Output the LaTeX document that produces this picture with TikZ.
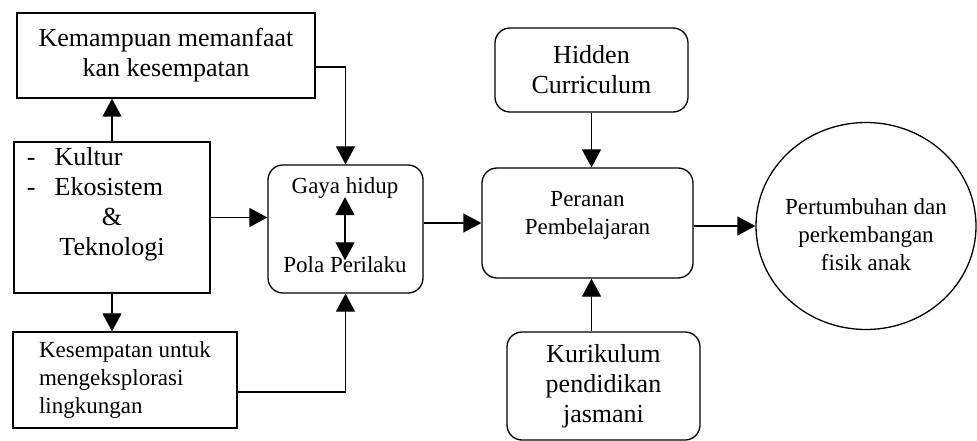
\documentclass[tikz,border=0pt]{standalone}
\usepackage{fontspec}
\setmainfont{Liberation Serif}
\usetikzlibrary{positioning}
\usetikzlibrary{calc}
\usetikzlibrary{shapes.geometric}
\usetikzlibrary{arrows.meta}

\begin{document}
\begin{tikzpicture}[->,>={Triangle[width=19pt,length=18pt]},x=1pt,y=-1pt,
		line width=1.3pt]
		\tikzstyle{box}=[draw,rectangle,align=center,inner sep=2pt]
		\tikzstyle{rbox}=[box,rounded corners=15pt]
		\tikzstyle{big}=[font=\fontsize{26}{30}\selectfont]
		\tikzstyle{small}=[font=\fontsize{23}{28}\selectfont]
		
		\useasboundingbox (0,0) rectangle (977,441);
		
		\node[box,big,minimum width=298pt,minimum height=85pt]  (Kemampuan)  at (166,55.5) {Kemampuan memanfaat\\kan kesempatan};
		\node[box,minimum width=196pt,minimum height=151pt]     (Kultur)     at (112,217.5) {};
		\node[big,align=center,inner sep=0pt]                   (KulturTxt)  at (112,204)
		{\makebox[170pt][l]{-\hspace{19pt}Kultur}\\\makebox[170pt][l]{-\hspace{19pt}Ekosistem}\\\&\\Teknologi};
		\node[box,small,align=left,minimum width=224pt,minimum height=96pt] (Kesempatan) at (125,380)
		{Kesempatan untuk\\mengeksplorasi\\lingkungan};
		
		\node[rbox,minimum width=155pt,minimum height=128pt]    (Gaya)       at (345.5,229) {};
		\node[small,inner sep=0pt]                              (GayaTop)    at (345,188) {Gaya hidup};
		\node[small,inner sep=0pt]                              (GayaBot)    at (345,265) {Pola Perilaku};
		
		\node[rbox,minimum width=211pt,minimum height=110pt]    (Peranan)    at (587.5,223) {};
		\node[small,align=center,inner sep=0pt]                 (PerananTxt) at (587.5,215) {Peranan\\Pembelajaran};
		\node[rbox,big,minimum width=193pt,minimum height=84pt]  (Hidden)     at (591.5,70) {Hidden\\Curriculum};
		\node[rbox,big,minimum width=193pt,minimum height=108pt] (Kurikulum)  at (603.5,386) {Kurikulum\\pendidikan\\jasmani};
		
		\node[draw,ellipse,minimum width=220pt,minimum height=207pt] (Tumbuh) at (866,226) {};
		\node[small,align=center,inner sep=0pt]                 (TumbuhTxt)  at (866,235)
		{Pertumbuhan dan\\perkembangan\\fisik anak};
		
		\path (Kultur.north)   edge  (Kultur.north |- Kemampuan.south)
		(Kultur.south)         edge  (Kultur.south |- Kesempatan.north)
		(Kultur.east)          edge  (Kultur.east -| Gaya.west)
		(Peranan.west -| Gaya.east) edge (Peranan.west)
		(Hidden.south)         edge  (Hidden.south |- Peranan.north)
		(Kurikulum.north -| Hidden.south) edge (Peranan.south -| Hidden.south)
		(Tumbuh.west -| Peranan.east) edge (Tumbuh.west)
		;
		
		\draw ([yshift=-11.5pt]Kemampuan.east) -| (Gaya.north);
		\draw ([yshift=-12pt]Kesempatan.east) -| (Gaya.south);
		\draw[<->,shorten <=-2pt,shorten >=-4pt] (GayaTop) -- (GayaBot);
		
\end{tikzpicture}
\end{document}
